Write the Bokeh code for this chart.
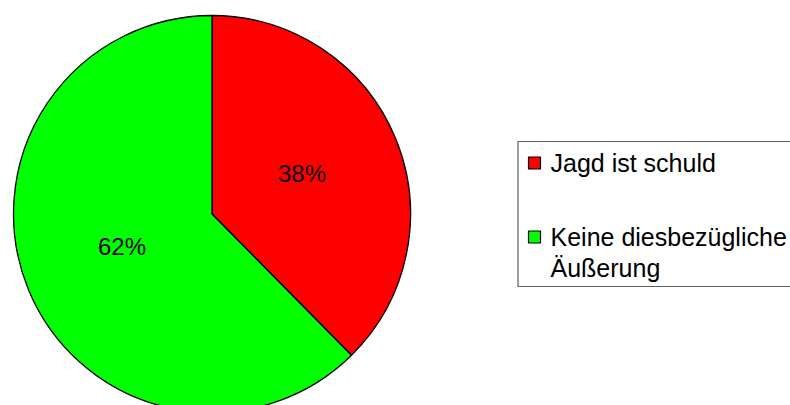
import math
from bokeh.plotting import figure
from bokeh.models import Range1d, ColumnDataSource
from bokeh.core.properties import value
from bokeh.embed import file_html
from bokeh.resources import INLINE

categories = ["Jagd ist schuld", "Keine diesbezügliche\nÄußerung"]
shares = [37.6, 62.4]
pct_labels = ["38%", "62%"]
colors = ["#FF0000", "#00FF00"]

W, H = 790, 405
FONT = value("Liberation Sans")

p = figure(width=W, height=H, x_range=Range1d(0, W), y_range=Range1d(0, H),
           output_backend="svg", toolbar_location=None, min_border=0)
p.axis.visible = False
p.grid.visible = False
p.outline_line_color = None
p.background_fill_color = "white"
p.border_fill_color = "white"

# pie geometry (pixel space, y up)
cx, cy, R = 211.5, H - 213.5, 198.5
total = sum(shares)
starts, ends, lx, ly = [], [], [], []
a = math.pi / 2
for s in shares:
    sweep = 2 * math.pi * s / total
    starts.append(a - sweep)
    ends.append(a)
    mid = a - sweep / 2
    lx.append(cx + 0.49 * R * math.cos(mid))
    ly.append(cy + 0.49 * R * math.sin(mid) + 4)
    a -= sweep

src = ColumnDataSource(dict(start=starts, end=ends, color=colors, lx=lx, ly=ly, lab=pct_labels))
p.wedge(x=cx, y=cy, radius=R, start_angle="start", end_angle="end",
        fill_color="color", line_color="black", line_width=1.3, source=src)
p.text(x="lx", y="ly", text="lab", source=src, text_font=FONT, text_font_size="24px",
       text_align="center", text_baseline="middle", text_color="black")

# legend
p.quad(left=517.5, right=W + 10, top=H - 141, bottom=H - 286,
       fill_color="white", line_color="#606060", line_width=1.2)
sq_x, txt_x, pitch, lh = 534, 550, 74, 31
sq_c0, base0 = 162.5, 162.0
sq_y, tx, ty, tt = [], [], [], []
for i, cat in enumerate(categories):
    sq_y.append(H - (sq_c0 + i * pitch))
    base = base0 + i * pitch
    for j, line in enumerate(cat.split("\n")):
        tx.append(txt_x)
        ty.append(H - (base + j * lh))
        tt.append(line)
p.rect(x=sq_x, y=sq_y, width=12, height=12, fill_color=colors, line_color="black", line_width=1.2)
p.text(x=tx, y=ty, text=tt, text_font=FONT, text_font_size="25px",
       text_align="left", text_baseline="alphabetic", text_color="black")

open("out.html", "w").write(file_html(p, INLINE))
